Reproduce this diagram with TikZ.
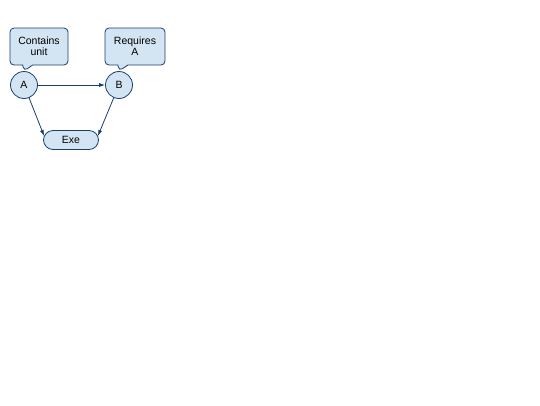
\documentclass[tikz,border=0pt]{standalone}
\usepackage{fontspec}
\setmainfont{Liberation Sans}
\usetikzlibrary{shapes.callouts,shapes.misc,arrows.meta}
\definecolor{nodefill}{HTML}{D3E5F2}
\definecolor{nodeline}{HTML}{1A3D6E}
\tikzset{
  every node/.style={font=\fontsize{10.5}{11}\selectfont, text=black},
  vert/.style={circle, draw=nodeline, fill=nodefill, line width=0.8pt, minimum size=27pt, inner sep=0pt},
  exebox/.style={rounded rectangle, draw=nodeline, fill=nodefill, line width=0.8pt, minimum width=55pt, minimum height=19pt, inner sep=0pt},
  note/.style={rectangle callout, draw=nodeline, fill=nodefill, line width=0.8pt, rounded corners=4pt, minimum width=58pt, minimum height=37pt, inner sep=1pt, align=center, callout pointer width=10pt},
  link/.style={draw=nodeline, line width=0.8pt, -{Latex[length=6pt,width=4pt]}}
}
\begin{document}
\begin{tikzpicture}[x=1pt,y=-1pt]
\useasboundingbox (0,0) rectangle (540,405);
\node[vert] (A) at (24,85) {A};
\node[vert] (B) at (119,85) {B};
\node[exebox] (E) at (71,140) {Exe};
\node[note, callout absolute pointer={(24,71)}] (cA) at (39,46.5) {Contains\\unit};
\node[note, minimum width=60pt, callout absolute pointer={(119,71)}] (cB) at (135,46.5) {Requires\\A};
\draw[link] (A) -- ([xshift=1pt,yshift=4pt]E.west);
\draw[link] (A) -- (B);
\draw[link] (B) -- ([xshift=-1pt,yshift=4pt]E.east);
\end{tikzpicture}
\end{document}
